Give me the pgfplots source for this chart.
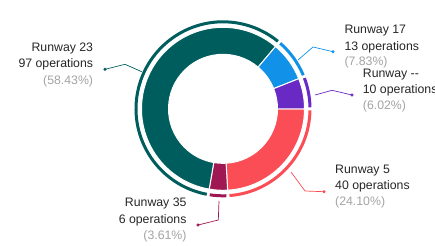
\documentclass[border=0pt]{standalone}
\usepackage{fontspec}
\setmainfont{Liberation Sans}
\usepackage{pgfplots}
\usepackage{pgfplotstable}
\pgfplotsset{compat=1.18}

\definecolor{c0}{HTML}{FA4D56} % Runway 5
\definecolor{c1}{HTML}{9F1853} % Runway 35
\definecolor{c2}{HTML}{005D5D} % Runway 23
\definecolor{c3}{HTML}{1192E8} % Runway 17
\definecolor{c4}{HTML}{6929C4} % Runway --
\definecolor{txt}{HTML}{262626}
\definecolor{pct}{HTML}{A3A3A3}

% slices, clockwise from 3 o'clock
\pgfplotstableread{
idx value
0 40
1 6
2 97
3 13
4 10
}\slices

\gdef\total{0}
\pgfplotstableforeachcolumnelement{value}\of\slices\as\v{%
  \pgfmathsetmacro\t{\total+\v}\xdef\total{\t}}
\gdef\angcur{0}
\pgfplotstableforeachcolumnelement{value}\of\slices\as\v{%
  \pgfmathsetmacro\angnext{\angcur-(360/\total)*\v}%
  \expandafter\xdef\csname as\pgfplotstablerow\endcsname{\angcur}%
  \expandafter\xdef\csname ae\pgfplotstablerow\endcsname{\angnext}%
  \xdef\angcur{\angnext}}

\tikzset{lbl/.style={font=\fontsize{12.3bp}{15bp}\selectfont, inner sep=0pt}}

\begin{document}
\begin{tikzpicture}
\begin{axis}[x=1bp, y=1bp, xmin=0, xmax=435, ymin=0, ymax=245,
  y dir=reverse, hide axis, clip=false]
\pgfplotsinvokeforeach{0,...,4}{
  \fill[c#1, draw=white, line width=1bp]
    ([shift={(\csname as#1\endcsname:81.5bp)}]axis cs:223,108.8)
    arc[start angle=\csname as#1\endcsname, end angle=\csname ae#1\endcsname, radius=81.5bp]
    -- ([shift={(\csname ae#1\endcsname:54.5bp)}]axis cs:223,108.8)
    arc[start angle=\csname ae#1\endcsname, end angle=\csname as#1\endcsname, radius=54.5bp]
    -- cycle;
  \draw[c#1, line width=3bp]
    ([shift={(\csname as#1\endcsname-1:87bp)}]axis cs:223,108.8)
    arc[start angle=\csname as#1\endcsname-1, end angle=\csname ae#1\endcsname+1, radius=87bp];
}
% leader lines
\addplot[c2, line width=0.7bp, no markers] coordinates {(141.7,71.7) (125,64.3) (105,69.3)};
\addplot[c2, only marks, mark=*, mark size=1.4bp] coordinates {(105,69.3)};
\addplot[c3, line width=0.7bp, no markers] coordinates {(298,60) (313,47) (333,51.7)};
\addplot[c3, only marks, mark=*, mark size=1.4bp] coordinates {(333,51.7)};
\addplot[c4, line width=0.7bp, no markers] coordinates {(315,95) (332,90.3) (352,95)};
\addplot[c4, only marks, mark=*, mark size=1.4bp] coordinates {(352,95)};
\addplot[c0, line width=0.7bp, no markers] coordinates {(291,172) (305,191) (324,191.7)};
\addplot[c0, only marks, mark=*, mark size=1.4bp] coordinates {(324,191.7)};
\addplot[c1, line width=0.7bp, no markers] coordinates {(219,201) (218.3,220) (198,225)};
\addplot[c1, only marks, mark=*, mark size=1.4bp] coordinates {(198,225)};
% labels
\node[lbl, anchor=mid east, text=txt] at (axis cs:93.3,49.3) {Runway 23};
\node[lbl, anchor=mid east, text=txt] at (axis cs:93.3,65.3) {97 operations};
\node[lbl, anchor=mid east, text=pct] at (axis cs:93.3,81.7) {(58.43\%)};
\node[lbl, anchor=mid west, text=txt] at (axis cs:344.3,31) {Runway 17};
\node[lbl, anchor=mid west, text=txt] at (axis cs:344.3,47.7) {13 operations};
\node[lbl, anchor=mid west, text=pct] at (axis cs:344.3,63.3) {(7.83\%)};
\node[lbl, anchor=mid west, text=txt] at (axis cs:362.7,75) {Runway -{}-};
\node[lbl, anchor=mid west, text=txt] at (axis cs:362.7,91) {10 operations};
\node[lbl, anchor=mid west, text=pct] at (axis cs:362.7,107.3) {(6.02\%)};
\node[lbl, anchor=mid west, text=txt] at (axis cs:335,170.7) {Runway 5};
\node[lbl, anchor=mid west, text=txt] at (axis cs:335,186.7) {40 operations};
\node[lbl, anchor=mid west, text=pct] at (axis cs:335,202.7) {(24.10\%)};
\node[lbl, anchor=mid east, text=txt] at (axis cs:186.7,204.3) {Runway 35};
\node[lbl, anchor=mid east, text=txt] at (axis cs:186.7,220.7) {6 operations};
\node[lbl, anchor=mid east, text=pct] at (axis cs:186.7,237.3) {(3.61\%)};
\end{axis}
\pgfresetboundingbox
\path (current axis.south west) rectangle (current axis.north east);
\end{tikzpicture}
\end{document}
